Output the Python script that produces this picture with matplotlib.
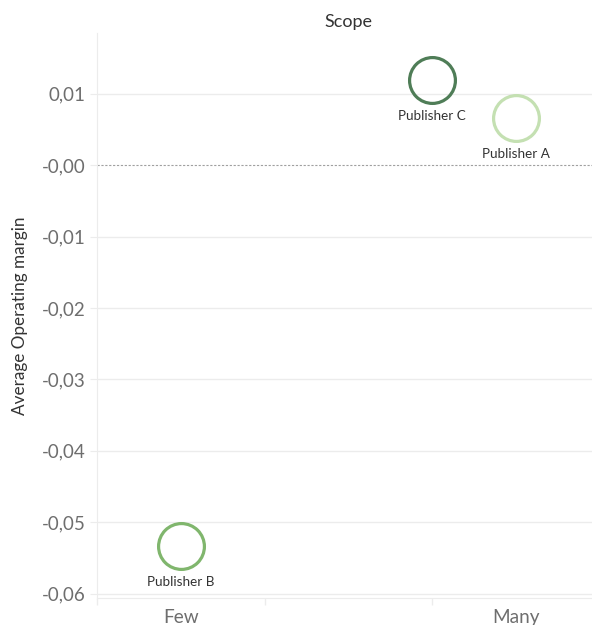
import matplotlib

matplotlib.use("Agg")
import matplotlib.pyplot as plt  # noqa: E402
from matplotlib.ticker import FixedLocator  # noqa: E402
from matplotlib.transforms import blended_transform_factory  # noqa: E402

plt.rcParams["font.family"] = ["Lato", "DejaVu Sans"]

publishers = ["Publisher B", "Publisher C", "Publisher A"]
scope_pos = [0.0, 1.5, 2.0]
operating_margin = [-0.0533, 0.0119, 0.0066]
ring_colors = ["#80b66d", "#4f7d57", "#c4e0b2"]

category_labels = ["Few", "Many"]
category_pos = [0.0, 2.0]
y_ticks = [0.01, 0.0, -0.01, -0.02, -0.03, -0.04, -0.05, -0.06]
y_tick_labels = ["0,01", "-0,00", "-0,01", "-0,02", "-0,03", "-0,04", "-0,05", "-0,06"]

GRID = "#ececec"
AXIS_TXT = "#6e6e6e"
DARK_TXT = "#333333"

fig = plt.figure(figsize=(5.92, 6.25), dpi=100)
ax = fig.add_axes([97 / 592, 27 / 625, 495 / 592, 565 / 625])

ax.set_xlim(-0.5, -0.5 + 495 / 167.5)
ax.set_ylim(-0.0606, 0.0185)

# horizontal grid + dashed zero line
for yv in y_ticks:
    if yv == 0:
        ax.axhline(yv, color="#a0a0a0", lw=0.8, ls=(0, (2, 1.5)), zorder=1)
    else:
        ax.axhline(yv, color=GRID, lw=1.0, zorder=1)

for x, y, c, name in zip(scope_pos, operating_margin, ring_colors, publishers):
    ax.plot(x, y, marker="o", ms=33, mfc="none", mec=c, mew=2.3,
            ls="none", zorder=3, clip_on=False)
    ax.annotate(name, (x, y), xytext=(0, -26), textcoords="offset points",
                ha="center", va="center", fontsize=9.7, color=DARK_TXT)

ax.set_yticks(y_ticks)
ax.set_yticklabels(y_tick_labels, fontsize=13.5, color=AXIS_TXT)
ax.tick_params(axis="y", length=5, color=GRID, pad=3)

ax.set_xticks(category_pos)
ax.set_xticklabels(category_labels, fontsize=13.7, color=AXIS_TXT)
ax.xaxis.set_minor_locator(FixedLocator([-0.5, 0.5, 1.5, 2.5]))
ax.tick_params(axis="x", which="major", length=0, pad=8)
ax.tick_params(axis="x", which="minor", length=5, color=GRID, width=1.0)

for side in ["top", "right"]:
    ax.spines[side].set_visible(False)
ax.spines["left"].set_color(GRID)
ax.spines["bottom"].set_color(GRID)

ax.set_ylabel("Average Operating margin", fontsize=12.3, color=DARK_TXT, labelpad=10)

trans = blended_transform_factory(ax.transData, fig.transFigure)
ax.text(1.0, 1 - 22 / 625, "Scope", transform=trans, ha="center", va="center",
        fontsize=13, color=DARK_TXT)

fig.savefig("out.png", dpi=100)
